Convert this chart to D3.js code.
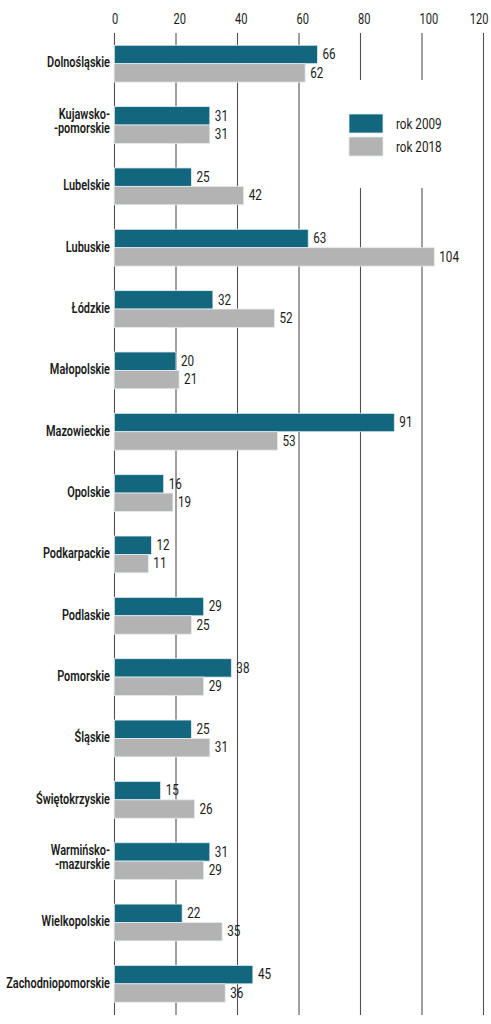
<!DOCTYPE html>
<html><head><meta charset="utf-8">
<script src="https://cdn.jsdelivr.net/npm/d3@7/dist/d3.min.js"></script>
<style>
html,body{margin:0;padding:0;background:#fff;}
svg{display:block;}
text{font-family:Roboto,"Noto Sans",sans-serif;fill:#1a1a1a;}
.cat{font-weight:600;font-size:14.5px;}
.val,.tick,.leg{font-size:15px;font-weight:400;}
</style></head>
<body>
<script>
const categories = ["Dolnośląskie","Kujawsko-\n-pomorskie","Lubelskie","Lubuskie","Łódzkie","Małopolskie","Mazowieckie","Opolskie","Podkarpackie","Podlaskie","Pomorskie","Śląskie","Świętokrzyskie","Warmińsko-\n-mazurskie","Wielkopolskie","Zachodniopomorskie"];
const series = ["rok 2009","rok 2018"];
const values2009 = [66,31,25,63,32,20,91,16,12,29,38,25,15,31,22,45];
const values2018 = [62,31,42,104,52,21,53,19,11,25,29,31,26,29,35,36];
const tickValues = [0,20,40,60,80,100,120];
const colors = ["#12677f","#b3b3b3"];

const W = 491, H = 1024;
const SX_CAT = 0.755, SX_NUM = 0.78;
const svg = d3.select("body").append("svg").attr("width",W).attr("height",H);

const x = d3.scaleLinear().domain([0,120]).range([114.5,483.5]);
const y = d3.scaleBand().domain(categories).range([33,1014.5]).paddingInner(0.4).paddingOuter(0.2);
const ys = d3.scaleBand().domain(series).range([0,y.bandwidth()]);
const color = d3.scaleOrdinal().domain(series).range(colors);

function place(sel, px, py, sx){ // condensed text placement
  sel.attr("transform",`translate(${px},${py}) scale(${sx},1)`).attr("x",0).attr("y",0);
}

// gridlines
svg.append("g").selectAll("line").data(tickValues).join("line")
  .attr("x1",d=>x(d)).attr("x2",d=>x(d)).attr("y1",33).attr("y2",1015)
  .attr("stroke","#505050").attr("stroke-width",1.1);

// top tick labels
svg.append("g").selectAll("text").data(tickValues).join("text")
  .attr("class","tick")
  .attr("text-anchor",(d,i)=>i===tickValues.length-1?"end":"start")
  .each(function(d,i){
    const last = i===tickValues.length-1;
    place(d3.select(this), last ? 488.5 : x(d)-2.5, 23.5, 0.74);
  })
  .text(d=>d);

// legend white background
svg.append("rect").attr("x",338).attr("y",80).attr("width",132).attr("height",108).attr("fill","#fff");

const rows = categories.map((c,i)=>({cat:c, vals:[values2009[i],values2018[i]]}));
const g = svg.append("g").selectAll("g").data(rows).join("g")
  .attr("transform",d=>`translate(0,${y(d.cat)})`);

g.selectAll("rect").data(d=>d.vals.map((v,j)=>({s:series[j],v}))).join("rect")
  .attr("x",x(0)).attr("y",d=>ys(d.s)).attr("width",d=>x(d.v)-x(0)).attr("height",ys.bandwidth())
  .attr("fill",d=>color(d.s)).attr("stroke","#e4ecee").attr("stroke-width",0.8);

g.selectAll("text.val").data(d=>d.vals.map((v,j)=>({s:series[j],v}))).join("text")
  .attr("class","val")
  .each(function(d){ place(d3.select(this), x(d.v)+5, ys(d.s)+ys.bandwidth()/2+4.8, SX_NUM); })
  .text(d=>d.v);

g.each(function(d){
  const lines = d.cat.split("\n");
  const cy = y.bandwidth()/2;
  const t = d3.select(this).append("text").attr("class","cat").attr("text-anchor","end");
  place(t, 110, lines.length===1 ? cy+3.8 : cy-6.5, SX_CAT);
  lines.forEach((l,k)=>{
    t.append("tspan").attr("x",0).attr("dy",k===0?0:14.5).text(l);
  });
});

// legend
const lg = svg.append("g").selectAll("g").data(series).join("g")
  .attr("transform",(d,i)=>`translate(349,${114+i*23})`);
lg.append("rect").attr("width",34).attr("height",19).attr("fill",d=>color(d)).attr("stroke","#e4ecee").attr("stroke-width",0.8);
lg.append("text").attr("class","leg").each(function(){ place(d3.select(this),47,15,SX_NUM); }).text(d=>d);
</script>
</body></html>
